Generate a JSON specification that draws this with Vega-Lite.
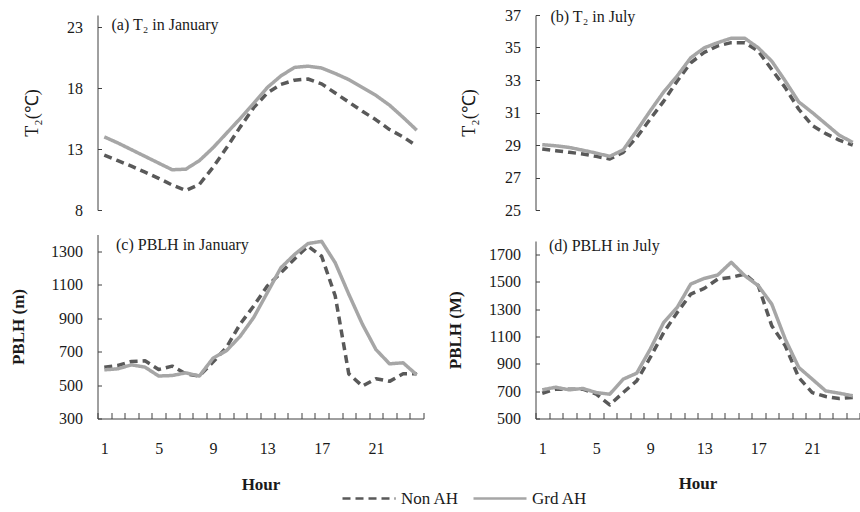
{
  "$schema": "https://vega.github.io/schema/vega-lite/v6.json",
  "background": "white",
  "padding": {"left": 8.5, "top": 7, "right": 0, "bottom": 0},
  "datasets": {
    "d": [
      {"p": "a", "h": 1, "Non AH": 12.5, "Grd AH": 14.0},
      {"p": "a", "h": 2, "Non AH": 12.05, "Grd AH": 13.5},
      {"p": "a", "h": 3, "Non AH": 11.6, "Grd AH": 12.95},
      {"p": "a", "h": 4, "Non AH": 11.1, "Grd AH": 12.4},
      {"p": "a", "h": 5, "Non AH": 10.6, "Grd AH": 11.85},
      {"p": "a", "h": 6, "Non AH": 10.05, "Grd AH": 11.3},
      {"p": "a", "h": 7, "Non AH": 9.6, "Grd AH": 11.35},
      {"p": "a", "h": 8, "Non AH": 10.1, "Grd AH": 12.05},
      {"p": "a", "h": 9, "Non AH": 11.5, "Grd AH": 13.1},
      {"p": "a", "h": 10, "Non AH": 13.1, "Grd AH": 14.3},
      {"p": "a", "h": 11, "Non AH": 14.8, "Grd AH": 15.5},
      {"p": "a", "h": 12, "Non AH": 16.4, "Grd AH": 16.75},
      {"p": "a", "h": 13, "Non AH": 17.6, "Grd AH": 18.05},
      {"p": "a", "h": 14, "Non AH": 18.3, "Grd AH": 19.0},
      {"p": "a", "h": 15, "Non AH": 18.65, "Grd AH": 19.7},
      {"p": "a", "h": 16, "Non AH": 18.75, "Grd AH": 19.8},
      {"p": "a", "h": 17, "Non AH": 18.35, "Grd AH": 19.65},
      {"p": "a", "h": 18, "Non AH": 17.6, "Grd AH": 19.2},
      {"p": "a", "h": 19, "Non AH": 16.85, "Grd AH": 18.7},
      {"p": "a", "h": 20, "Non AH": 16.1, "Grd AH": 18.05},
      {"p": "a", "h": 21, "Non AH": 15.4, "Grd AH": 17.4},
      {"p": "a", "h": 22, "Non AH": 14.6, "Grd AH": 16.6},
      {"p": "a", "h": 23, "Non AH": 14.0, "Grd AH": 15.6},
      {"p": "a", "h": 24, "Non AH": 13.25, "Grd AH": 14.55},
      {"p": "b", "h": 1, "Non AH": 28.76, "Grd AH": 29.02},
      {"p": "b", "h": 2, "Non AH": 28.65, "Grd AH": 28.95},
      {"p": "b", "h": 3, "Non AH": 28.55, "Grd AH": 28.85},
      {"p": "b", "h": 4, "Non AH": 28.45, "Grd AH": 28.68},
      {"p": "b", "h": 5, "Non AH": 28.3, "Grd AH": 28.5},
      {"p": "b", "h": 6, "Non AH": 28.14, "Grd AH": 28.3},
      {"p": "b", "h": 7, "Non AH": 28.55, "Grd AH": 28.7},
      {"p": "b", "h": 8, "Non AH": 29.47, "Grd AH": 29.88},
      {"p": "b", "h": 9, "Non AH": 30.6, "Grd AH": 31.1},
      {"p": "b", "h": 10, "Non AH": 31.7, "Grd AH": 32.27},
      {"p": "b", "h": 11, "Non AH": 32.94, "Grd AH": 33.25},
      {"p": "b", "h": 12, "Non AH": 34.06, "Grd AH": 34.37},
      {"p": "b", "h": 13, "Non AH": 34.7, "Grd AH": 34.98},
      {"p": "b", "h": 14, "Non AH": 35.1, "Grd AH": 35.3},
      {"p": "b", "h": 15, "Non AH": 35.3, "Grd AH": 35.57},
      {"p": "b", "h": 16, "Non AH": 35.3, "Grd AH": 35.57},
      {"p": "b", "h": 17, "Non AH": 34.78, "Grd AH": 34.98},
      {"p": "b", "h": 18, "Non AH": 33.65, "Grd AH": 34.16},
      {"p": "b", "h": 19, "Non AH": 32.53, "Grd AH": 32.94},
      {"p": "b", "h": 20, "Non AH": 31.2, "Grd AH": 31.65},
      {"p": "b", "h": 21, "Non AH": 30.2, "Grd AH": 31.0},
      {"p": "b", "h": 22, "Non AH": 29.7, "Grd AH": 30.3},
      {"p": "b", "h": 23, "Non AH": 29.3, "Grd AH": 29.6},
      {"p": "b", "h": 24, "Non AH": 29.0, "Grd AH": 29.16},
      {"p": "c", "h": 1, "Non AH": 607, "Grd AH": 591},
      {"p": "c", "h": 2, "Non AH": 617, "Grd AH": 597},
      {"p": "c", "h": 3, "Non AH": 641, "Grd AH": 621},
      {"p": "c", "h": 4, "Non AH": 645, "Grd AH": 607},
      {"p": "c", "h": 5, "Non AH": 593, "Grd AH": 554},
      {"p": "c", "h": 6, "Non AH": 613, "Grd AH": 557},
      {"p": "c", "h": 7, "Non AH": 567, "Grd AH": 573},
      {"p": "c", "h": 8, "Non AH": 554, "Grd AH": 554},
      {"p": "c", "h": 9, "Non AH": 637, "Grd AH": 660},
      {"p": "c", "h": 10, "Non AH": 726, "Grd AH": 706},
      {"p": "c", "h": 11, "Non AH": 864, "Grd AH": 791},
      {"p": "c", "h": 12, "Non AH": 973, "Grd AH": 904},
      {"p": "c", "h": 13, "Non AH": 1092, "Grd AH": 1052},
      {"p": "c", "h": 14, "Non AH": 1171, "Grd AH": 1201},
      {"p": "c", "h": 15, "Non AH": 1254, "Grd AH": 1280},
      {"p": "c", "h": 16, "Non AH": 1330, "Grd AH": 1346},
      {"p": "c", "h": 17, "Non AH": 1270, "Grd AH": 1359},
      {"p": "c", "h": 18, "Non AH": 1033, "Grd AH": 1231},
      {"p": "c", "h": 19, "Non AH": 567, "Grd AH": 1043},
      {"p": "c", "h": 20, "Non AH": 494, "Grd AH": 864},
      {"p": "c", "h": 21, "Non AH": 538, "Grd AH": 712},
      {"p": "c", "h": 22, "Non AH": 522, "Grd AH": 627},
      {"p": "c", "h": 23, "Non AH": 567, "Grd AH": 633},
      {"p": "c", "h": 24, "Non AH": 567, "Grd AH": 561},
      {"p": "d", "h": 1, "Non AH": 685, "Grd AH": 710},
      {"p": "d", "h": 2, "Non AH": 715, "Grd AH": 729},
      {"p": "d", "h": 3, "Non AH": 715, "Grd AH": 710},
      {"p": "d", "h": 4, "Non AH": 715, "Grd AH": 720},
      {"p": "d", "h": 5, "Non AH": 678, "Grd AH": 690},
      {"p": "d", "h": 6, "Non AH": 600, "Grd AH": 678},
      {"p": "d", "h": 7, "Non AH": 690, "Grd AH": 788},
      {"p": "d", "h": 8, "Non AH": 776, "Grd AH": 832},
      {"p": "d", "h": 9, "Non AH": 947, "Grd AH": 1008},
      {"p": "d", "h": 10, "Non AH": 1130, "Grd AH": 1204},
      {"p": "d", "h": 11, "Non AH": 1277, "Grd AH": 1314},
      {"p": "d", "h": 12, "Non AH": 1411, "Grd AH": 1485},
      {"p": "d", "h": 13, "Non AH": 1453, "Grd AH": 1526},
      {"p": "d", "h": 14, "Non AH": 1521, "Grd AH": 1551},
      {"p": "d", "h": 15, "Non AH": 1534, "Grd AH": 1644},
      {"p": "d", "h": 16, "Non AH": 1558, "Grd AH": 1546},
      {"p": "d", "h": 17, "Non AH": 1473, "Grd AH": 1473},
      {"p": "d", "h": 18, "Non AH": 1179, "Grd AH": 1338},
      {"p": "d", "h": 19, "Non AH": 1033, "Grd AH": 1081},
      {"p": "d", "h": 20, "Non AH": 800, "Grd AH": 874},
      {"p": "d", "h": 21, "Non AH": 690, "Grd AH": 788},
      {"p": "d", "h": 22, "Non AH": 661, "Grd AH": 702},
      {"p": "d", "h": 23, "Non AH": 646, "Grd AH": 685},
      {"p": "d", "h": 24, "Non AH": 654, "Grd AH": 666}
    ]
  },
  "data": {"name": "d"},
  "config": {
    "view": {"stroke": null},
    "axis": {
      "grid": false,
      "labelFont": "Liberation Serif",
      "labelFontSize": 16,
      "labelColor": "#1a1a1a",
      "domainColor": "#404040",
      "tickColor": "#404040",
      "titleFont": "Liberation Serif",
      "titleColor": "#1a1a1a"
    },
    "title": {
      "anchor": "start",
      "frame": "group",
      "offset": 0,
      "baseline": "alphabetic",
      "font": "Liberation Serif",
      "fontSize": 16,
      "fontWeight": "normal",
      "color": "#1a1a1a"
    },
    "legend": {
      "orient": "none",
      "legendX": 243.5,
      "legendY": 455.5,
      "direction": "horizontal",
      "symbolType": "stroke",
      "symbolSize": 2809,
      "symbolStrokeWidth": 2.5,
      "labelFont": "Liberation Serif",
      "labelFontSize": 17,
      "labelColor": "#1a1a1a",
      "columnPadding": 12,
      "labelOffset": 4
    },
    "line": {"strokeJoin": "round"}
  },
  "bounds": "flush",
  "columns": 2,
  "spacing": {"row": 24.5, "column": 112},
  "concat": [
    {
      "width": 326,
      "height": 195,
      "title": {"text": "(a) T₂ in January", "dx": 14, "dy": 22},
      "transform": [{"filter": "datum.p == 'a'"}, {"fold": ["Non AH", "Grd AH"], "as": ["series", "value"]}],
      "encoding": {
        "x": {"field": "h", "type": "quantitative", "scale": {"domain": [0.5, 24.5], "nice": false, "zero": false}, "axis": null},
        "y": {"field": "value", "type": "quantitative", "scale": {"domain": [8, 24], "nice": false, "zero": false},
          "axis": {"title": "T₂(℃)", "values": [8, 13, 18, 23], "format": "d", "tickSize": -4, "labelPadding": 19, "titleX": -65, "titleFontSize": 18, "titleFontWeight": "normal", "titleBaseline": "middle"}},
        "color": {"field": "series", "type": "nominal", "title": null, "scale": {"domain": ["Non AH", "Grd AH"], "range": ["#595959", "#a6a6a6"]}, "legend": {"orient": "none", "legendX": 243.5, "legendY": 455.5, "direction": "horizontal", "title": null}},
        "strokeDash": {"field": "series", "type": "nominal", "title": null, "scale": {"domain": ["Non AH", "Grd AH"], "range": [[8, 5], [1, 0]]}, "legend": {"orient": "none", "legendX": 243.5, "legendY": 455.5, "direction": "horizontal", "title": null}}
      },
      "layer": [
        {"transform": [{"filter": "datum.series == 'Non AH'"}], "mark": {"type": "line", "strokeWidth": 3.5}},
        {"transform": [{"filter": "datum.series == 'Grd AH'"}], "mark": {"type": "line", "strokeWidth": 3.5}}
      ]
    },
    {
      "width": 324,
      "height": 195,
      "title": {"text": "(b) T₂ in July", "dx": 15, "dy": 22},
      "transform": [{"filter": "datum.p == 'b'"}, {"fold": ["Non AH", "Grd AH"], "as": ["series", "value"]}],
      "encoding": {
        "x": {"field": "h", "type": "quantitative", "scale": {"domain": [0.5, 24.5], "nice": false, "zero": false}, "axis": null},
        "y": {"field": "value", "type": "quantitative", "scale": {"domain": [25, 37], "nice": false, "zero": false},
          "axis": {"title": "T₂(℃)", "values": [25, 27, 29, 31, 33, 35, 37], "format": "d", "tickSize": -4, "labelPadding": 19, "titleX": -66, "titleFontSize": 18, "titleFontWeight": "normal", "titleBaseline": "middle"}},
        "color": {"field": "series", "type": "nominal", "title": null, "scale": {"domain": ["Non AH", "Grd AH"], "range": ["#595959", "#a6a6a6"]}, "legend": {"orient": "none", "legendX": 243.5, "legendY": 455.5, "direction": "horizontal", "title": null}},
        "strokeDash": {"field": "series", "type": "nominal", "title": null, "scale": {"domain": ["Non AH", "Grd AH"], "range": [[8, 5], [1, 0]]}, "legend": {"orient": "none", "legendX": 243.5, "legendY": 455.5, "direction": "horizontal", "title": null}}
      },
      "layer": [
        {"transform": [{"filter": "datum.series == 'Non AH'"}], "mark": {"type": "line", "strokeWidth": 3.5}},
        {"transform": [{"filter": "datum.series == 'Grd AH'"}], "mark": {"type": "line", "strokeWidth": 3.5}}
      ]
    },
    {
      "width": 326,
      "height": 184,
      "title": {"text": "(c) PBLH in January", "dx": 18.5, "dy": 22.5},
      "transform": [{"filter": "datum.p == 'c'"}, {"fold": ["Non AH", "Grd AH"], "as": ["series", "value"]}],
      "encoding": {
        "y": {"field": "value", "type": "quantitative", "scale": {"domain": [300, 1400], "nice": false, "zero": false},
          "axis": {"title": "PBLH (m)", "values": [300, 500, 700, 900, 1100, 1300], "format": "d", "tickSize": -4, "labelPadding": 19, "titleX": -79, "titleFontSize": 17, "titleFontWeight": "bold", "titleBaseline": "middle"}},
        "color": {"field": "series", "type": "nominal", "title": null, "scale": {"domain": ["Non AH", "Grd AH"], "range": ["#595959", "#a6a6a6"]}, "legend": {"orient": "none", "legendX": 243.5, "legendY": 455.5, "direction": "horizontal", "title": null}},
        "strokeDash": {"field": "series", "type": "nominal", "title": null, "scale": {"domain": ["Non AH", "Grd AH"], "range": [[8, 5], [1, 0]]}, "legend": {"orient": "none", "legendX": 243.5, "legendY": 455.5, "direction": "horizontal", "title": null}}
      },
      "layer": [
        {"transform": [{"filter": "datum.series == 'Non AH'"}], "mark": {"type": "line", "strokeWidth": 3.5},
          "encoding": {"x": {"field": "h", "type": "quantitative", "scale": {"domain": [0.5, 24.5], "nice": false, "zero": false},
            "axis": {"orient": "bottom", "title": null, "labels": false, "values": [0.5, 1.5, 2.5, 3.5, 4.5, 5.5, 6.5, 7.5, 8.5, 9.5, 10.5, 11.5, 12.5, 13.5, 14.5, 15.5, 16.5, 17.5, 18.5, 19.5, 20.5, 21.5, 22.5, 23.5, 24.5], "tickSize": -6}}}},
        {"transform": [{"filter": "datum.series == 'Grd AH'"}], "mark": {"type": "line", "strokeWidth": 3.5},
          "encoding": {"x": {"field": "h", "type": "quantitative", "scale": {"domain": [0.5, 24.5], "nice": false, "zero": false},
            "axis": {"orient": "bottom", "title": "Hour", "ticks": false, "domain": false, "values": [1, 5, 9, 13, 17, 21], "labelPadding": 30, "labelBaseline": "middle", "titleFontSize": 17, "titleFontWeight": "bold", "titleBaseline": "middle", "titleY": 66}}}}
      ],
      "resolve": {"axis": {"x": "independent"}}
    },
    {
      "width": 324,
      "height": 184,
      "title": {"text": "(d) PBLH in July", "dx": 13.5, "dy": 23.5},
      "transform": [{"filter": "datum.p == 'd'"}, {"fold": ["Non AH", "Grd AH"], "as": ["series", "value"]}],
      "encoding": {
        "y": {"field": "value", "type": "quantitative", "scale": {"domain": [500, 1800], "range": [184, 6.5], "nice": false, "zero": false},
          "axis": {"title": "PBLH (M)", "values": [500, 700, 900, 1100, 1300, 1500, 1700], "format": "d", "tickSize": -4, "labelPadding": 19, "titleX": -80, "titleFontSize": 17, "titleFontWeight": "bold", "titleBaseline": "middle"}},
        "color": {"field": "series", "type": "nominal", "title": null, "scale": {"domain": ["Non AH", "Grd AH"], "range": ["#595959", "#a6a6a6"]}, "legend": {"orient": "none", "legendX": 243.5, "legendY": 455.5, "direction": "horizontal", "title": null}},
        "strokeDash": {"field": "series", "type": "nominal", "title": null, "scale": {"domain": ["Non AH", "Grd AH"], "range": [[8, 5], [1, 0]]}, "legend": {"orient": "none", "legendX": 243.5, "legendY": 455.5, "direction": "horizontal", "title": null}}
      },
      "layer": [
        {"transform": [{"filter": "datum.series == 'Non AH'"}], "mark": {"type": "line", "strokeWidth": 3.5},
          "encoding": {"x": {"field": "h", "type": "quantitative", "scale": {"domain": [0.5, 24.5], "nice": false, "zero": false},
            "axis": {"orient": "bottom", "title": null, "labels": false, "values": [0.5, 1.5, 2.5, 3.5, 4.5, 5.5, 6.5, 7.5, 8.5, 9.5, 10.5, 11.5, 12.5, 13.5, 14.5, 15.5, 16.5, 17.5, 18.5, 19.5, 20.5, 21.5, 22.5, 23.5, 24.5], "tickSize": -6}}}},
        {"transform": [{"filter": "datum.series == 'Grd AH'"}], "mark": {"type": "line", "strokeWidth": 3.5},
          "encoding": {"x": {"field": "h", "type": "quantitative", "scale": {"domain": [0.5, 24.5], "nice": false, "zero": false},
            "axis": {"orient": "bottom", "title": "Hour", "ticks": false, "domain": false, "values": [1, 5, 9, 13, 17, 21], "labelPadding": 30, "labelBaseline": "middle", "titleFontSize": 17, "titleFontWeight": "bold", "titleBaseline": "middle", "titleY": 65}}}}
      ],
      "resolve": {"axis": {"x": "independent"}}
    }
  ]
}
